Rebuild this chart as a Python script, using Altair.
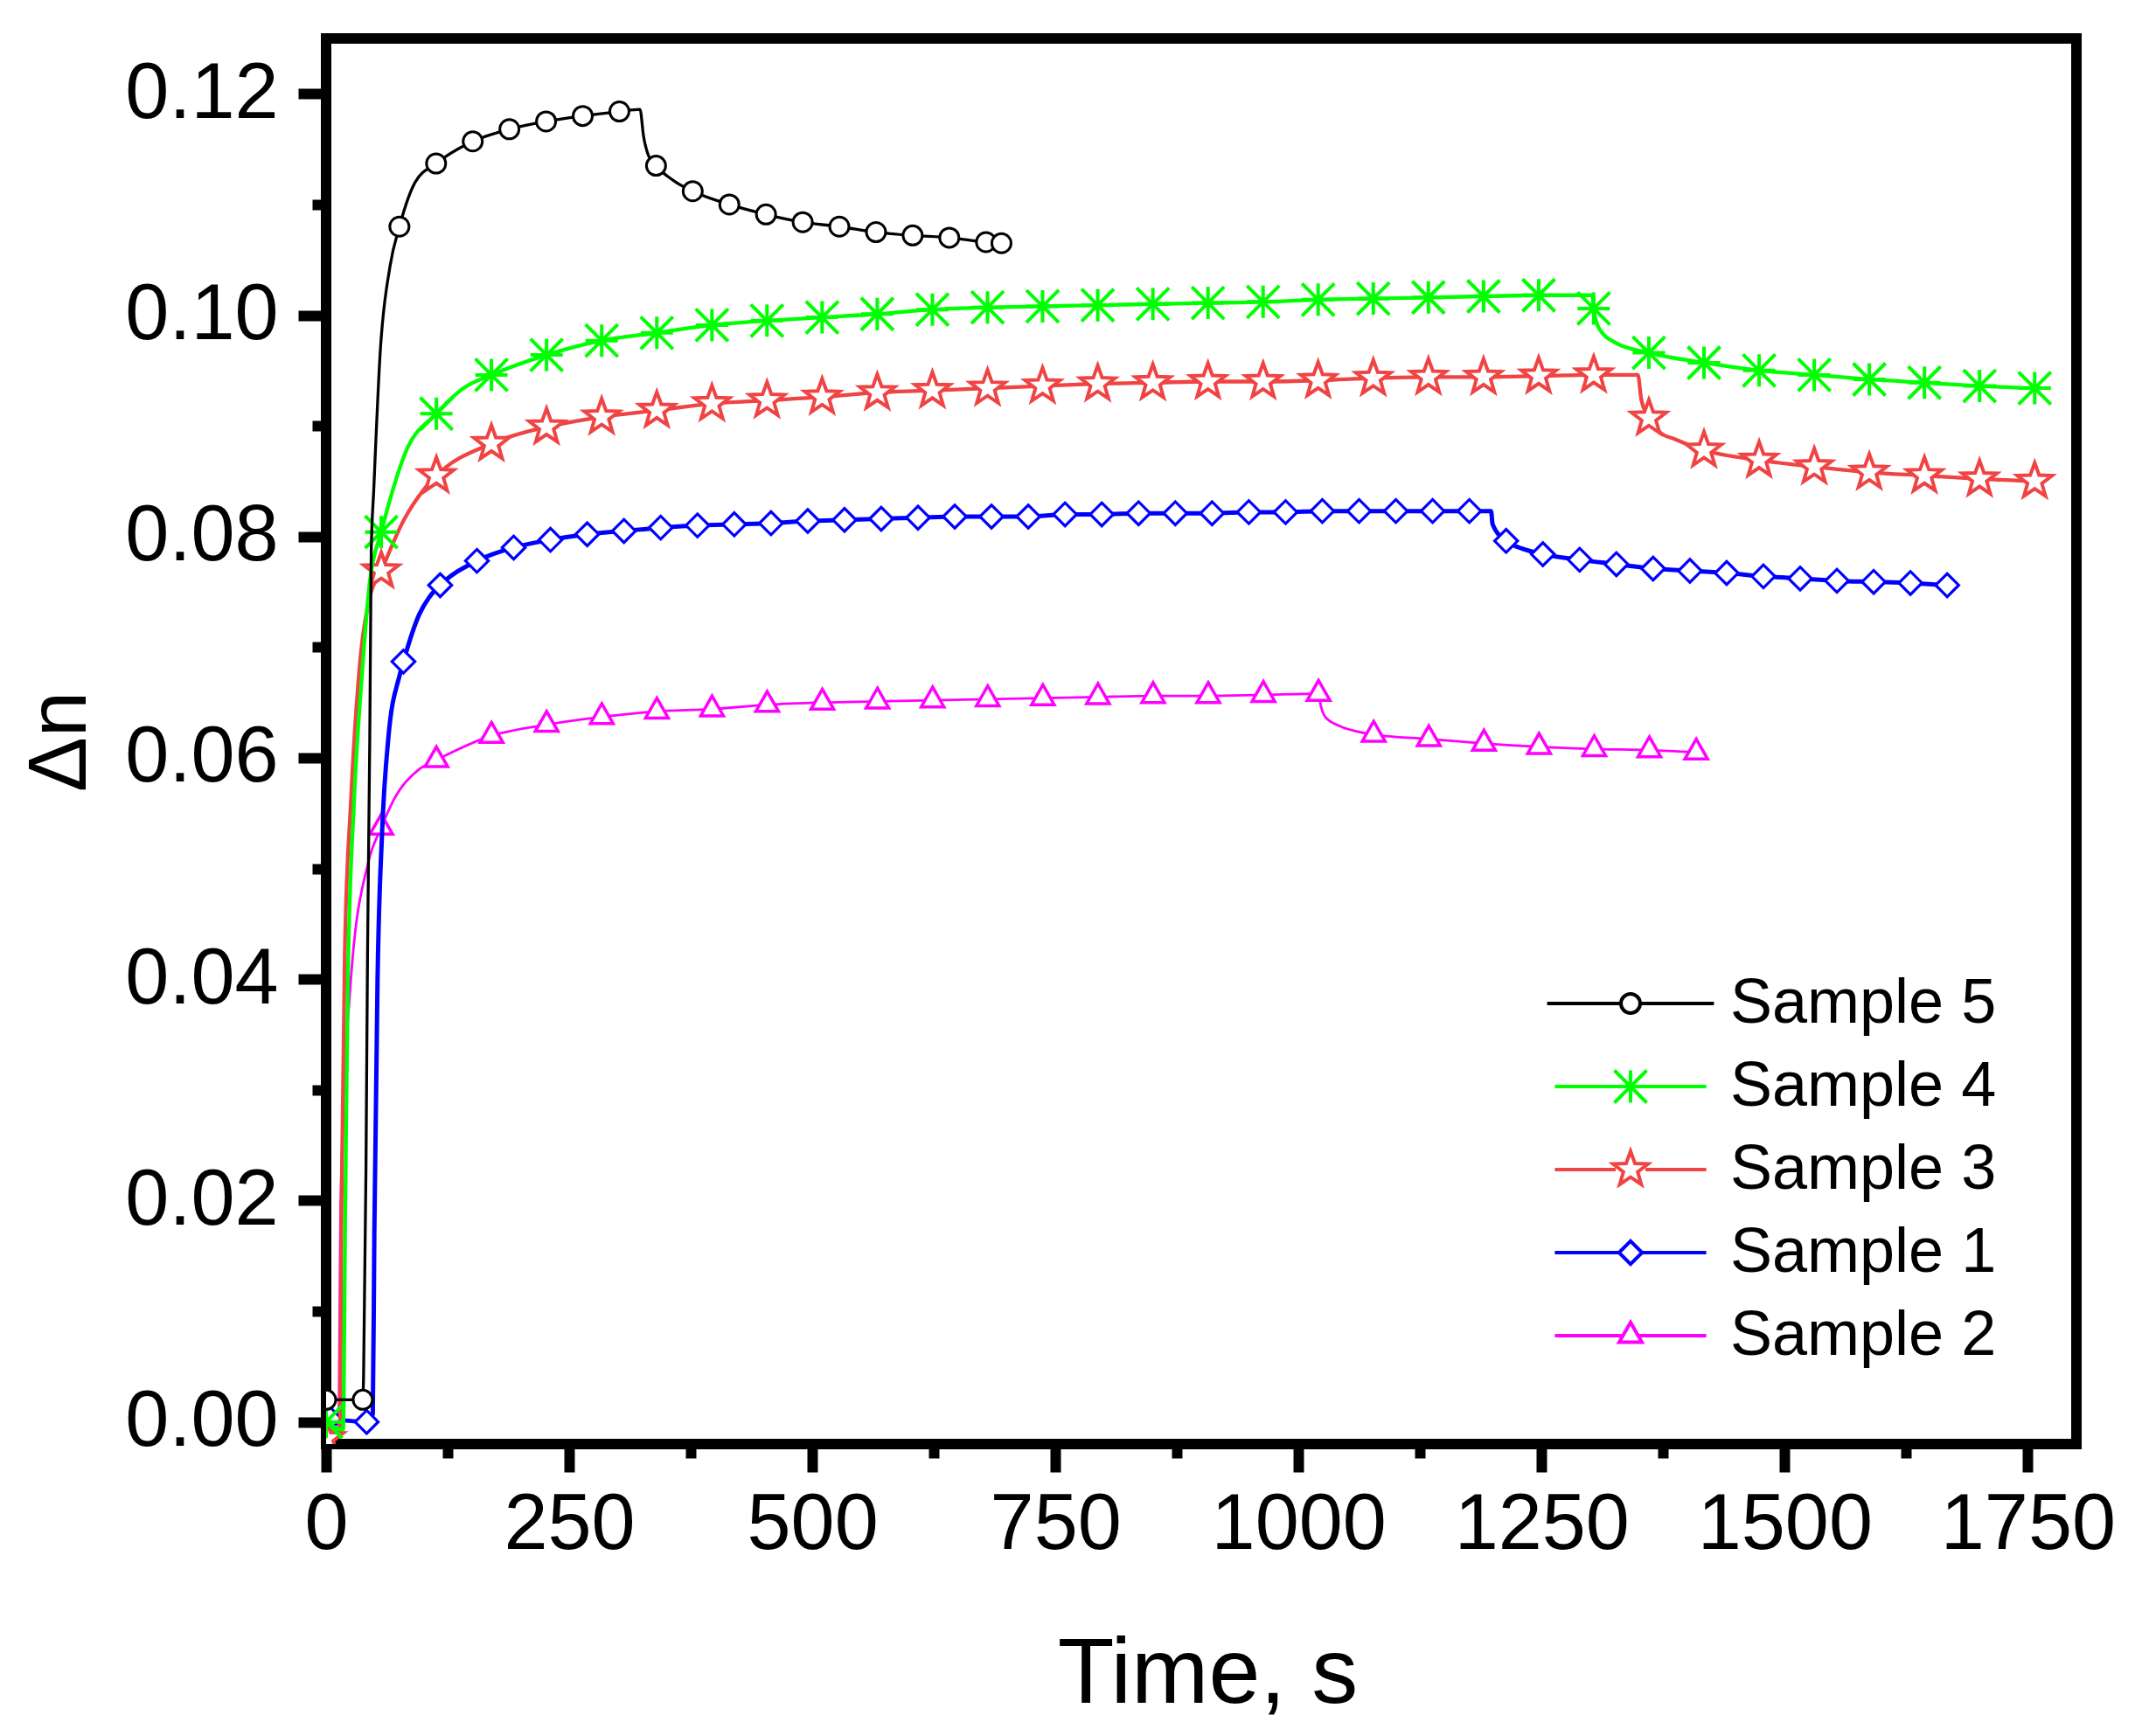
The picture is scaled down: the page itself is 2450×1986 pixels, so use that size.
import math
import altair as alt
import pandas as pd

FONT = "Liberation Sans"

SAMPLES = ["Sample 5", "Sample 4", "Sample 3", "Sample 1", "Sample 2"]
COLORS = ["#000000", "#00FF00", "#F04343", "#0000FF", "#FF00FF"]

X_TICKS = [0, 250, 500, 750, 1000, 1250, 1500, 1750]
X_MINOR = [125, 375, 625, 875, 1125, 1375, 1625]
Y_TICKS = [0.0, 0.02, 0.04, 0.06, 0.08, 0.10, 0.12]
Y_MINOR = [0.01, 0.03, 0.05, 0.07, 0.09, 0.11]

# ---------------- Sample 5 (black, circles)
s5_mark_t = [0, 37.7, 75.4, 113.1, 150.8, 188.5, 226.2, 263.9, 301.6, 339.3, 377.0,
             414.7, 452.4, 490.1, 527.8, 565.5, 603.2, 640.9, 678.6, 694.5]
s5_mark_dn = [0.0020, 0.0020, 0.1080, 0.1137, 0.1157, 0.1168, 0.1175, 0.1180, 0.1184, 0.1135, 0.1112,
              0.1100, 0.1091, 0.1084, 0.1080, 0.1075, 0.1072, 0.1070, 0.1066, 0.1065]
s5_line_t = [38.5, 41.0, 42.6, 44.9, 46.4, 49.0, 55.4, 65.7, 91.5, 322.8, 326.4, 331.6, 360.0]
s5_line_dn = [0.0040, 0.0228, 0.0424, 0.0617, 0.0787, 0.0842, 0.0963, 0.1044, 0.1120, 0.1186, 0.1162, 0.1144, 0.1120]

# ---------------- Sample 4 (green, asterisks)
s4_mark_t = [0, 56.7, 113.4, 170.0, 226.7, 283.4, 340.1, 396.8, 453.4, 510.1, 566.8, 623.5, 680.2,
             736.8, 793.5, 850.2, 906.9, 963.6, 1020.2, 1076.9, 1133.6, 1190.3, 1247.0, 1303.6,
             1360.3, 1417.0, 1473.7, 1530.4, 1587.0, 1643.7, 1700.4, 1757.1]
s4_mark_dn = [0.0000, 0.0804, 0.0911, 0.0946, 0.0964, 0.0977, 0.0984, 0.0991, 0.0995, 0.0998, 0.1001,
              0.1005, 0.1007, 0.1008, 0.1009, 0.1010, 0.1011, 0.1012, 0.1014, 0.1015, 0.1016, 0.1017,
              0.1018, 0.1006, 0.0966, 0.0957, 0.0950, 0.0946, 0.0942, 0.0939, 0.0936, 0.0934]
s4_line_t = [17.5, 19.8, 22.4, 28.8, 36.8, 44.9, 68.9, 81.2, 143.0, 1302.0, 1308.5, 1326.0]
s4_line_dn = [-0.0007, 0.0199, 0.0400, 0.0561, 0.0674, 0.0759, 0.0843, 0.0875, 0.0935, 0.1018, 0.0989, 0.0975]

# ---------------- Sample 3 (red, stars)
s3_mark_t = list(s4_mark_t)
s3_mark_dn = [-0.0015, 0.0769, 0.0855, 0.0884, 0.0899, 0.0908, 0.0914, 0.0920, 0.0923, 0.0926, 0.0930,
              0.0932, 0.0934, 0.0936, 0.0938, 0.0939, 0.0940, 0.0940, 0.0941, 0.0943, 0.0944, 0.0944,
              0.0945, 0.0946, 0.0907, 0.0878, 0.0869, 0.0863, 0.0858, 0.0855, 0.0852, 0.0850]
s3_line_t = [14.3, 15.9, 19.2, 25.5, 33.6, 44.9, 80.0, 101.0, 1349.0, 1352.5, 1372.0, 1386.7]
s3_line_dn = [-0.0013, 0.0199, 0.0424, 0.0561, 0.0674, 0.0745, 0.0815, 0.0843, 0.0946, 0.0924, 0.0894, 0.0888]

# ---------------- Sample 1 (blue, diamonds)
s1_mark_t = [3.9, 41.7, 79.5, 117.3, 155.1, 192.9, 230.7, 268.5, 306.3, 344.1, 381.9, 419.7,
             457.5, 495.3, 533.1, 570.9, 608.7, 646.5, 684.3, 722.1, 759.9, 797.7, 835.5, 873.3,
             911.1, 948.9, 986.7, 1024.5, 1062.3, 1100.1, 1137.9, 1175.7, 1213.5, 1251.3, 1289.1,
             1326.9, 1364.7, 1402.5, 1440.3, 1478.1, 1515.9, 1553.7, 1591.5, 1629.3, 1667.1]
s1_mark_dn = [0.0003, 0.0000, 0.0687, 0.0756, 0.0778, 0.0790, 0.0797, 0.0802, 0.0805, 0.0808, 0.0810, 0.0811,
              0.0812, 0.0814, 0.0815, 0.0816, 0.0817, 0.0818, 0.0818, 0.0818, 0.0820, 0.0820, 0.0821, 0.0821,
              0.0821, 0.0822, 0.0822, 0.0823, 0.0823, 0.0823, 0.0823, 0.0823, 0.0796, 0.0784, 0.0779,
              0.0775, 0.0771, 0.0769, 0.0767, 0.0764, 0.0762, 0.0760, 0.0759, 0.0758, 0.0756]
s1_line_t = [48.0, 49.6, 52.9, 57.6, 64.0, 75.4, 96.0, 106.0, 1198.0, 1199.6, 1230.0]
s1_line_dn = [0.0007, 0.0171, 0.0400, 0.0533, 0.0618, 0.0674, 0.0730, 0.0745, 0.0823, 0.0811, 0.0789]

# ---------------- Sample 2 (magenta, triangles)
s2_mark_t = [0, 56.7, 113.4, 170.1, 226.8, 283.5, 340.2, 396.9, 453.6, 510.3, 567.0, 623.7, 680.4,
             737.1, 793.8, 850.5, 907.2, 963.9, 1020.6, 1077.3, 1134.0, 1190.7, 1247.4, 1304.1,
             1360.8, 1409.0]
s2_mark_dn = [0.0004, 0.0537, 0.0598, 0.0620, 0.0630, 0.0637, 0.0642, 0.0644, 0.0648, 0.0650, 0.0651,
              0.0652, 0.0653, 0.0654, 0.0655, 0.0656, 0.0656, 0.0657, 0.0658, 0.0621, 0.0617, 0.0613,
              0.0610, 0.0608, 0.0607, 0.0605]
s2_line_t = [12.6, 15.0, 25.5, 43.2, 68.9, 96.2, 1022.0, 1027.5, 1041.7, 1059.4]
s2_line_dn = [-0.0013, 0.0199, 0.0400, 0.0505, 0.0561, 0.0590, 0.0651, 0.0637, 0.0629, 0.0624]

SERIES = {
    "Sample 5": (s5_mark_t, s5_mark_dn, s5_line_t, s5_line_dn),
    "Sample 4": (s4_mark_t, s4_mark_dn, s4_line_t, s4_line_dn),
    "Sample 3": (s3_mark_t, s3_mark_dn, s3_line_t, s3_line_dn),
    "Sample 1": (s1_mark_t, s1_mark_dn, s1_line_t, s1_line_dn),
    "Sample 2": (s2_mark_t, s2_mark_dn, s2_line_t, s2_line_dn),
}

# ---------------- marker shapes (unit = sqrt(size)/2 px)
def star_path(R, r):
    pts = []
    for i in range(10):
        ang = math.radians(-90 + 36 * i)
        rad = R if i % 2 == 0 else r
        pts.append((rad * math.cos(ang), rad * math.sin(ang)))
    return "M" + "L".join(f"{x:.3f},{y:.3f}" for x, y in pts) + "Z"

CIRCLE = "M0.55,0A0.55,0.55,0,1,1,-0.55,0A0.55,0.55,0,1,1,0.55,0Z"
ASTER = "M-0.925,0L0.925,0M0,-0.925L0,0.925M-0.925,-0.925L0.925,0.925M-0.925,0.925L0.925,-0.925"
STAR = star_path(1.05, 0.43)
DIAMOND = "M-0.66,0L0,-0.66L0.66,0L0,0.66Z"
TRIANGLE = "M0,-0.76L0.65,0.38L-0.65,0.38Z"

SHAPES = {"Sample 5": CIRCLE, "Sample 4": ASTER, "Sample 3": STAR,
          "Sample 1": DIAMOND, "Sample 2": TRIANGLE}
LEG_SHAPES = [
    "M-4.77,0L-0.55,0M0.55,0L4.77,0" + CIRCLE,
    "M-4.33,0L4.33,0" + ASTER,
    "M-4.33,0L-0.85,0M0.85,0L4.33,0" + STAR,
    "M-4.33,0L-0.66,0M0.66,0L4.33,0" + DIAMOND,
    "M-4.33,0L-0.44,0M0.44,0L4.33,0" + TRIANGLE,
]
LINE_W = {"Sample 5": 3.3, "Sample 4": 4.3, "Sample 3": 4.3, "Sample 1": 5.0, "Sample 2": 2.8}
MARK_W = {"Sample 5": 3.0, "Sample 4": 4.0, "Sample 3": 4.0, "Sample 1": 3.2, "Sample 2": 3.5}
COLOR_OF = dict(zip(SAMPLES, COLORS))

rows = []
for name, (mt, md, lt, ld) in SERIES.items():
    for t, d in zip(mt, md):
        rows.append({"sample": name, "t": t, "dn": d, "kind": "marker"})
    for t, d in zip(lt, ld):
        rows.append({"sample": name, "t": t, "dn": d, "kind": "line"})
df = pd.DataFrame(rows)

xscale = alt.Scale(domain=[0, 1800], nice=False, zero=False)
yscale = alt.Scale(domain=[-0.002, 0.125], nice=False, zero=False)

x_axis = alt.Axis(values=X_TICKS, format="d", tickSize=32, tickWidth=12, tickColor="black",
                  domain=False, grid=False, labelFontSize=90, labelFont=FONT, labelColor="black",
                  labelPadding=16, labelFlush=False, labelOverlap=False, labelLimit=1000,
                  title="Time, s", titleFontSize=106, titleFont=FONT, titleFontWeight="normal",
                  titleColor="black", titleX=1008, titleY=295, titleBaseline="alphabetic",
                  titleAlign="center", titleLimit=2000)
y_axis = alt.Axis(values=Y_TICKS, format=".2f", tickSize=32, tickWidth=12, tickColor="black",
                  domain=False, grid=False, labelFontSize=90, labelFont=FONT, labelColor="black",
                  labelPadding=23, labelFlush=False, labelOverlap=False, labelLimit=1000,
                  title="Δn", titleFontSize=94, titleFont=FONT, titleFontWeight="normal",
                  titleColor="black", titleX=-256, titleY=804, titleAngle=270,
                  titleBaseline="bottom", titleAlign="center")

x_enc = alt.X("t:Q", scale=xscale, axis=x_axis)
y_enc = alt.Y("dn:Q", scale=yscale, axis=y_axis)

base = alt.Chart(df)
layers = []
for name in ["Sample 2", "Sample 1", "Sample 3", "Sample 4", "Sample 5"]:
    c = COLOR_OF[name]
    layers.append(
        base.transform_filter(alt.datum.sample == name)
        .mark_line(color=c, strokeWidth=LINE_W[name], interpolate="monotone", clip=True)
        .encode(x=x_enc, y=y_enc)
    )
    layers.append(
        base.transform_filter((alt.datum.sample == name) & (alt.datum.kind == "marker"))
        .mark_point(shape=SHAPES[name], size=1600, filled=False, fill="white", fillOpacity=1,
                    stroke=c, strokeWidth=MARK_W[name], opacity=1, clip=True)
        .encode(x=x_enc, y=y_enc)
    )

legend = alt.Legend(orient="none", legendX=1456, legendY=1068, title=None,
                    labelFontSize=72, labelFont=FONT, labelColor="black", labelOffset=78,
                    labelLimit=1000, rowPadding=23, symbolSize=1600, symbolStrokeWidth=4,
                    padding=0)
legend_layer = (
    base.transform_filter("false")
    .mark_point(filled=False, fill="white", size=1600, strokeWidth=4, opacity=1)
    .encode(
        x=x_enc, y=y_enc,
        color=alt.Color("sample:N", scale=alt.Scale(domain=SAMPLES, range=COLORS), legend=legend),
        shape=alt.Shape("sample:N", scale=alt.Scale(domain=SAMPLES, range=LEG_SHAPES), legend=legend),
    )
)
layers.append(legend_layer)

inner = alt.layer(*layers)

minor = (
    base.transform_filter("false")
    .mark_point()
    .encode(
        x=alt.X("t:Q", scale=xscale,
                axis=alt.Axis(values=X_MINOR, tickSize=16, tickWidth=12, tickColor="black",
                              labels=False, domain=False, grid=False, title=None, orient="bottom")),
        y=alt.Y("dn:Q", scale=yscale,
                axis=alt.Axis(values=Y_MINOR, tickSize=16, tickWidth=12, tickColor="black",
                              labels=False, domain=False, grid=False, title=None, orient="left")),
    )
)

chart = (
    alt.layer(inner, minor)
    .resolve_scale(x="independent", y="independent")
    .properties(width=2002, height=1608,
                autosize=alt.AutoSizeParams(type="none"),
                padding={"left": 365, "top": 36, "right": 55, "bottom": 318},
                background="white")
    .configure_view(stroke="black", strokeWidth=12)
)

chart.save("out.html", embed_options={"renderer": "svg", "actions": False})
